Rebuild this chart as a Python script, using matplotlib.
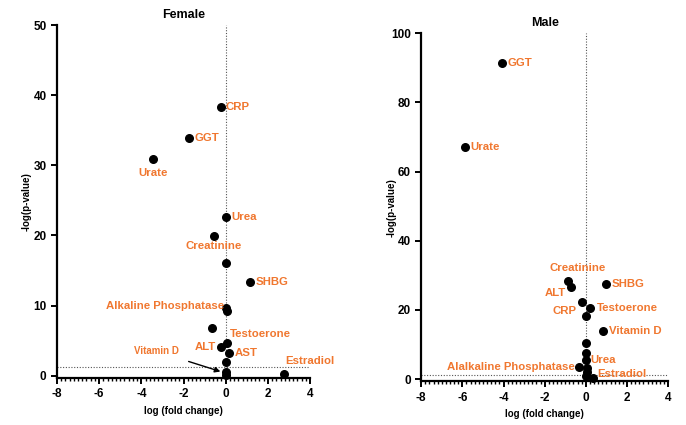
#!/usr/bin/env python3
"""Volcano plots of serum markers, female vs male."""

import matplotlib

matplotlib.use("Agg")
import matplotlib.pyplot as plt
from matplotlib.ticker import MultipleLocator

plt.rcParams["font.family"] = ["Liberation Sans", "DejaVu Sans"]
plt.rcParams["font.weight"] = "bold"
plt.rcParams["axes.unicode_minus"] = False

ORANGE = "#F0772F"
THRESHOLD = 1.3  # -log10(0.05)

# Female panel
female_fc = [-0.22, -1.73, -3.44, 0.0, -0.55, 0.0, 1.15, 0.0, 0.05, -0.64,
             0.05, -0.2, 0.16, 0.0, 0.0, 0.0, 2.77]
female_p = [38.3, 33.9, 30.9, 22.6, 19.9, 16.1, 13.4, 9.7, 9.3, 6.8,
            4.7, 4.1, 3.3, 2.0, 0.6, 0.15, 0.3]
female_labels = ["CRP", "GGT", "Urate", "Urea", "Creatinine", "", "SHBG",
                 "Alkaline Phosphatase", "", "", "Testoerone", "ALT", "AST",
                 "", "", "", "Estradiol"]

# Male panel
male_fc = [-4.07, -5.87, -0.88, -0.71, 0.97, -0.18, 0.21, 0.0, 0.84, 0.0,
           0.0, 0.0, -0.33, 0.05, 0.05, 0.0, 0.34]
male_p = [91.4, 67.0, 28.4, 26.6, 27.4, 22.2, 20.7, 18.2, 14.0, 10.4,
          7.5, 5.5, 3.4, 3.3, 2.0, 0.9, 0.2]
male_labels = ["GGT", "Urate", "Creatinine", "ALT", "SHBG", "CRP", "Testoerone",
               "", "Vitamin D", "", "", "Urea", "Alalkaline Phosphatase", "",
               "", "", "Estradiol"]

# label placement: (dx, dy) offset in points, horizontal alignment
female_offsets = {
    "CRP": ((3, 0), "left"), "GGT": ((4, 0), "left"), "Urate": ((0, -10), "center"),
    "Urea": ((4, 0), "left"), "Creatinine": ((0, -7), "center"), "SHBG": ((4, 0), "left"),
    "Alkaline Phosphatase": ((-1, 1), "right"), "Testoerone": ((2, 6), "left"),
    "ALT": ((-4, 0), "right"), "AST": ((4, 0), "left"), "Estradiol": ((1, 9), "left"),
}
male_offsets = {
    "GGT": ((4, 0), "left"), "Urate": ((4, 0), "left"), "Creatinine": ((7, 9), "center"),
    "ALT": ((-4, -4), "right"), "SHBG": ((4, 0), "left"), "CRP": ((-4, -6), "right"),
    "Testoerone": ((5, 0), "left"), "Vitamin D": ((4, 0), "left"),
    "Urea": ((3, 0), "left"), "Alalkaline Phosphatase": ((-3, 0), "right"),
    "Estradiol": ((3, 3), "left"),
}


def style_axes(ax, ymax, ystep, title):
    ax.set_xlim(-8, 4)
    ax.set_ylim(-0.006 * ymax, ymax)
    ax.xaxis.set_major_locator(MultipleLocator(2))
    ax.xaxis.set_minor_locator(MultipleLocator(0.2))
    ax.yaxis.set_major_locator(MultipleLocator(ystep))
    for side in ("top", "right"):
        ax.spines[side].set_visible(False)
    for side in ("left", "bottom"):
        ax.spines[side].set_linewidth(1.6)
    ax.tick_params(which="major", length=4, width=1.4, labelsize=8.5)
    ax.tick_params(which="minor", length=2.5, width=1.0)
    ax.axvline(0, color="#555555", lw=0.8, ls=(0, (1, 1.5)), zorder=1)
    ax.axhline(THRESHOLD, color="#555555", lw=0.8, ls=(0, (1, 1.5)), zorder=1)
    ax.set_title(title, fontsize=9, fontweight="bold", pad=5)
    ax.set_xlabel("log (fold change)", fontsize=7, fontweight="bold")
    ax.set_ylabel("-log(p-value)", fontsize=7, fontweight="bold")
    ax.yaxis.set_label_coords(-0.10, 0.5)


def draw_panel(ax, fc, p, labels, offsets):
    ax.scatter(fc, p, s=30, color="black", zorder=3, clip_on=False)
    for x, y, lab in zip(fc, p, labels):
        if not lab:
            continue
        (dx, dy), ha = offsets[lab]
        ax.annotate(lab, (x, y), xytext=(dx, dy), textcoords="offset points",
                    ha=ha, va="center", color=ORANGE, fontsize=8.2,
                    fontweight="bold", zorder=4)


fig = plt.figure(figsize=(6.86, 4.25), dpi=100)
ax_f = fig.add_axes([0.083, 0.111, 0.369, 0.830])
ax_m = fig.add_axes([0.614, 0.103, 0.360, 0.819])

style_axes(ax_f, 50, 10, "Female")
style_axes(ax_m, 100, 20, "Male")
draw_panel(ax_f, female_fc, female_p, female_labels, female_offsets)
draw_panel(ax_m, male_fc, male_p, male_labels, male_offsets)

# Vitamin D in the female panel sits in the cluster at zero, so it gets an arrow
ax_f.annotate("Vitamin D", xy=(-0.25, 0.6), xytext=(-3.3, 3.5),
              ha="center", va="center", color=ORANGE, fontsize=7,
              fontweight="bold",
              arrowprops=dict(arrowstyle="-|>", color="black", lw=1.0,
                              mutation_scale=8, shrinkA=6, shrinkB=0))

fig.savefig("out.png", dpi=100)
